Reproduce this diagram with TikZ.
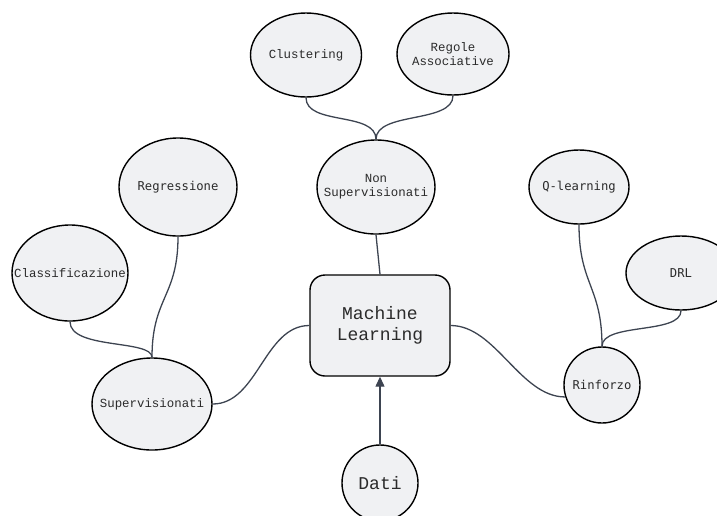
\documentclass[tikz,border=0pt]{standalone}
\usepackage{fontspec}
\setmonofont{Liberation Mono}
\newfontfamily\dvmono{DejaVu Sans Mono}
\usetikzlibrary{arrows.meta,shapes.geometric}
\definecolor{nodefill}{HTML}{F0F1F3}
\definecolor{linkcolor}{HTML}{3D4451}
\definecolor{txtcolor}{HTML}{2B2B2B}

\begin{document}
\begin{tikzpicture}[x=1pt,y=-1pt,
    bubble/.style={ellipse,draw=black,line width=1.4pt,fill=nodefill,inner sep=-30pt,
      text=txtcolor,align=center,font=\ttfamily\fontsize{12.4}{14}\selectfont},
    dvbubble/.style={bubble,font=\dvmono\fontsize{12.2}{14}\selectfont},
    bigbox/.style={rectangle,rounded corners=15pt,draw=black,line width=1.4pt,fill=nodefill,
      text=txtcolor,align=center,font=\ttfamily\fontsize{18}{21}\selectfont},
    link/.style={draw=linkcolor,line width=1.3pt}]
  \clip (0,0) rectangle (717,515);
  % centre
  \node[bigbox,minimum width=140pt,minimum height=101pt] (ml) at (380,325.5) {Machine\\Learning};
  \node[bubble,minimum width=76pt,minimum height=76pt,font=\ttfamily\fontsize{18}{21}\selectfont] (dati) at (380,483) {Dati};
  % non supervisionati
  \node[bubble,minimum width=118pt,minimum height=94pt] (nons) at (376,187) {Non\\Supervisionati};
  \node[bubble,minimum width=111pt,minimum height=84pt] (clus) at (306,55) {Clustering};
  \node[bubble,minimum width=112pt,minimum height=82pt] (rego) at (453,54) {Regole\\Associative};
  % supervisionati
  \node[bubble,minimum width=120pt,minimum height=92pt] (sup) at (152,404) {Supervisionati};
  \node[dvbubble,minimum width=118pt,minimum height=98pt] (regr) at (178,187) {Regressione};
  \node[bubble,minimum width=116pt,minimum height=96pt] (class) at (70,273) {Classificazione};
  % rinforzo
  \node[dvbubble,minimum width=76pt,minimum height=76pt] (rinf) at (602,385) {Rinforzo};
  \node[dvbubble,minimum width=100pt,minimum height=74pt] (qlearn) at (579,187) {Q-learning};
  \node[dvbubble,minimum width=110pt,minimum height=74pt] (drl) at (681,273) {DRL};

  \draw[link,-{Triangle[length=10pt,width=9pt]}] (dati) -- (ml);
  \draw[link] (nons.south) -- (ml.north);
  \draw[link] (clus.south) .. controls +(0,28) and +(0,-28) .. (nons.north);
  \draw[link] (rego.south) .. controls +(0,28) and +(0,-28) .. (nons.north);
  \draw[link] (regr.south) .. controls +(0,60) and +(0,-60) .. (sup.north);
  \draw[link] (class.south) .. controls +(0,28) and +(0,-18) .. (sup.north);
  \draw[link] (sup.east) .. controls +(45,0) and +(-45,0) .. (ml.west);
  \draw[link] (ml.east) .. controls +(45,0) and +(-45,0) .. (rinf.198);
  \draw[link] (qlearn.south) .. controls +(0,60) and +(0,-60) .. (rinf.north);
  \draw[link] (drl.south) .. controls +(0,24) and +(0,-24) .. (rinf.north);
\end{tikzpicture}
\end{document}
